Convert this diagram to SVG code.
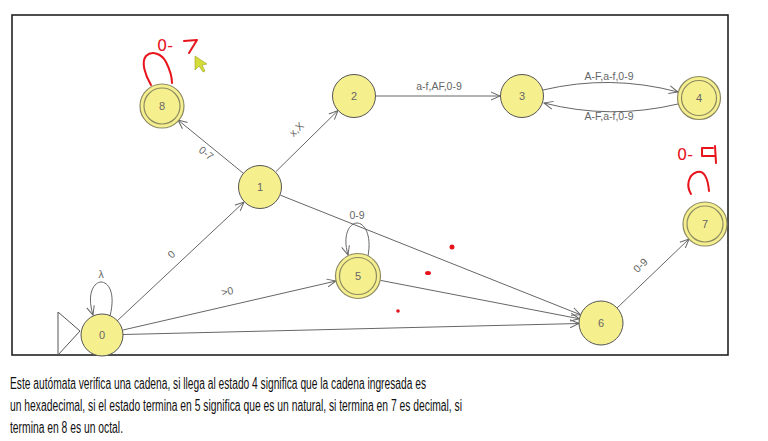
<svg xmlns="http://www.w3.org/2000/svg" width="768" height="441" viewBox="0 0 768 441">
<defs>
<style>
.st{fill:#f6ef8e;stroke:#555;stroke-width:1}
.acc{fill:#f6ef8e;stroke:#8c8a62;stroke-width:1.2}
.num{font-family:"Liberation Sans",Arial,sans-serif;font-size:11px;fill:#666;text-anchor:middle}
.lbl{font-family:"Liberation Sans",Arial,sans-serif;font-size:10.5px;fill:#666;text-anchor:middle}
.e{fill:none;stroke:#666;stroke-width:1}
.red{fill:none;stroke:#e8141c;stroke-width:2;stroke-linecap:round;stroke-linejoin:round}
.rt{font-family:"DejaVu Sans",sans-serif;font-size:16px;fill:#e8141c}
.cap{font-family:"Liberation Sans",Arial,sans-serif;font-size:16px;fill:#111}
</style>
<marker id="ar" viewBox="0 0 10 10" refX="9" refY="5" markerWidth="10" markerHeight="10" markerUnits="userSpaceOnUse" orient="auto">
<path d="M0,1 L9,5 L0,9" fill="none" stroke="#666" stroke-width="1"/>
</marker>
</defs>
<rect width="768" height="441" fill="#fff"/>
<rect x="12" y="15" width="716" height="340" fill="none" stroke="#222" stroke-width="1.6"/>
<g id="connectors">
<line class="e" x1="117" y1="321" x2="244" y2="202" marker-end="url(#ar)"/>
<text class="lbl" transform="translate(174,257) rotate(-43)">0</text>
<line class="e" x1="123" y1="330" x2="336" y2="281" marker-end="url(#ar)"/>
<text class="lbl" transform="translate(228,295) rotate(-13)">&gt;0</text>
<line class="e" x1="123" y1="334.5" x2="579" y2="323.5" marker-end="url(#ar)"/>
<path class="e" d="M110,316 C116,292 108,282 101,282 C95,282 86,292 93,315" marker-end="url(#ar)"/>
<text class="lbl" x="101" y="278">λ</text>
<line class="e" x1="243" y1="173" x2="178" y2="120" marker-end="url(#ar)"/>
<text class="lbl" transform="translate(204,156) rotate(39)">0-7</text>
<line class="e" x1="276" y1="171.5" x2="338" y2="110.5" marker-end="url(#ar)"/>
<text class="lbl" transform="translate(299,132) rotate(-44)">x,X</text>
<line class="e" x1="280.4" y1="195.2" x2="580.6" y2="314.8" marker-end="url(#ar)"/>
<path class="e" d="M368,256 C372,234 364,223 357,223 C350,223 342,234 348,255" marker-end="url(#ar)"/>
<text class="lbl" x="357" y="219">0-9</text>
<line class="e" x1="380.6" y1="280.4" x2="579.4" y2="318.8" marker-end="url(#ar)"/>
<line class="e" x1="376" y1="96" x2="500" y2="96" marker-end="url(#ar)"/>
<text class="lbl" x="439" y="90">a-f,AF,0-9</text>
<path class="e" d="M543,90 Q610,74 678,92" marker-end="url(#ar)"/>
<text class="lbl" x="609" y="80">A-F,a-f,0-9</text>
<path class="e" d="M678,104 Q610,120 544,103" marker-end="url(#ar)"/>
<text class="lbl" x="609" y="120">A-F,a-f,0-9</text>
<line class="e" x1="617" y1="308" x2="689" y2="239" marker-end="url(#ar)"/>
<text class="lbl" transform="translate(643,268) rotate(-44)">0-9</text>
</g>
<g id="start">
<path d="M58,312 L80,331 M58,355 L80,331 M58,312 L58,355" fill="none" stroke="#555" stroke-width="1"/>
</g>
<g id="node0"><circle class="st" cx="102" cy="335" r="21"/><text class="num" x="102" y="339">0</text></g>
<g id="node1"><circle class="st" cx="260" cy="187" r="21.5"/><text class="num" x="260" y="191">1</text></g>
<g id="node2"><circle class="st" cx="354" cy="96" r="21.5"/><text class="num" x="354" y="100">2</text></g>
<g id="node3"><circle class="st" cx="522" cy="96" r="21.5"/><text class="num" x="522" y="100">3</text></g>
<g id="node4"><circle class="acc" cx="699" cy="98" r="21.5"/><circle class="acc" cx="699" cy="98" r="17.5"/><text class="num" x="699" y="102">4</text></g>
<g id="node5"><circle class="acc" cx="358" cy="276" r="22.5"/><circle class="acc" cx="358" cy="276" r="18.5"/><text class="num" x="358" y="280">5</text></g>
<g id="node6"><circle class="st" cx="601" cy="323" r="22"/><text class="num" x="601" y="327">6</text></g>
<g id="node7"><circle class="acc" cx="705" cy="224" r="22"/><circle class="acc" cx="705" cy="224" r="18"/><text class="num" x="705" y="228">7</text></g>
<g id="node8"><circle class="acc" cx="162" cy="106" r="22"/><circle class="acc" cx="162" cy="106" r="18"/><text class="num" x="162" y="110">8</text></g>
<g id="annotations">
<path class="red" d="M151,85 C145,75 141,62 146,56 C152,50 162,54 166,62 C170,70 172,78 172,83"/>
<text class="rt" x="157" y="51">0-</text>
<path class="red" d="M184,41 L197,40 L189,53"/>
<text class="rt" x="677" y="160">0-</text>
<path class="red" d="M713,148 L702,148 L702,156 L715,156 M715,146 L716,163"/>
<path class="red" d="M691,194 C686,186 688,175 697,172 C705,170 708,180 709,191"/>
<circle cx="452" cy="247" r="2.5" fill="#e8141c"/>
<ellipse cx="428" cy="273" rx="3" ry="2" fill="#e8141c"/>
<circle cx="398" cy="311" r="1.8" fill="#e8141c"/>
<path d="M195,56 L195,70 L199,66 L203,72 L205,71 L202,65 L207,64 Z" fill="#d4dc3a" stroke="#9aa020" stroke-width="0.6"/>
</g>
<text class="cap" x="10" y="389" textLength="416" lengthAdjust="spacingAndGlyphs">Este autómata verifica una cadena, si llega al estado 4 significa que la cadena ingresada es</text>
<text class="cap" x="10" y="411" textLength="452" lengthAdjust="spacingAndGlyphs">un hexadecimal, si el estado termina en 5 significa que es un natural, si termina en 7 es decimal, si</text>
<text class="cap" x="10" y="433" textLength="113" lengthAdjust="spacingAndGlyphs">termina en 8 es un octal.</text>
</svg>
